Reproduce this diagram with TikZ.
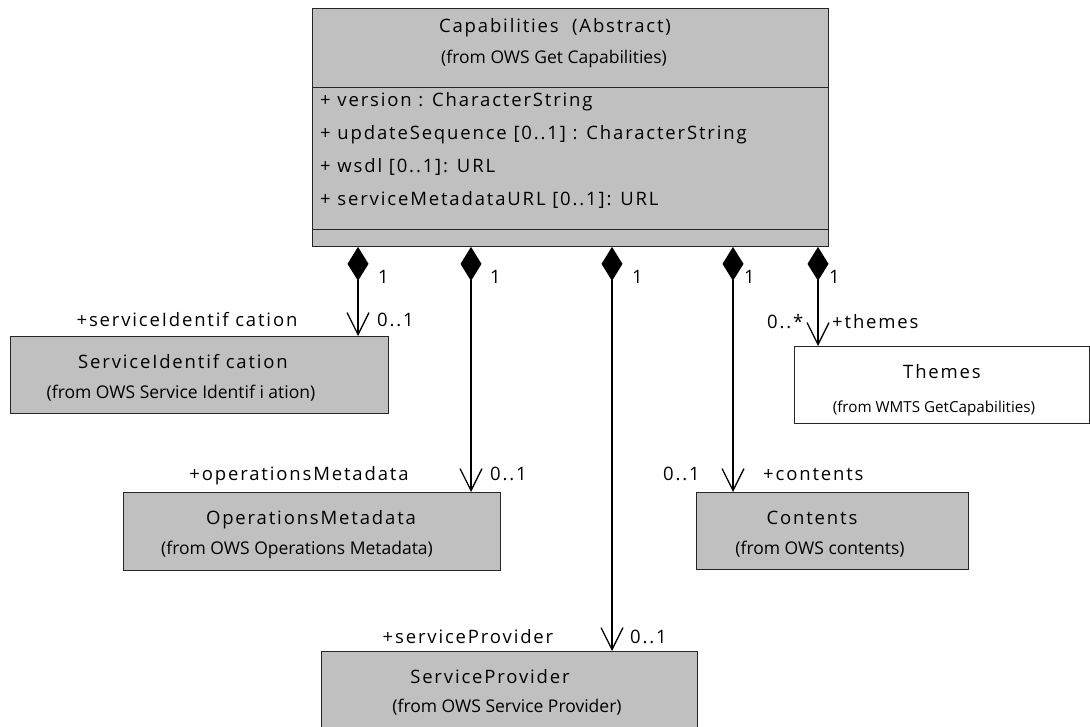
\documentclass[tikz,border=0pt]{standalone}
\usepackage{fontspec}
\setmainfont{Open Sans}
\newfontfamily\lblfont{Open Sans}[LetterSpace=10]
\newfontfamily\subfont{Open Sans}
\usetikzlibrary{arrows.meta}
\definecolor{umlgrey}{HTML}{C0C0C0}
\begin{document}
\begin{tikzpicture}[x=1pt,y=-1pt,
  cls/.style={draw=black!85, fill=umlgrey, line width=0.9pt, inner sep=0pt, anchor=north west},
  ttl/.style={font=\lblfont\fontsize{18.5}{20}\selectfont, inner sep=0pt, anchor=base},
  subt/.style={font=\subfont\fontsize{17.5}{19}\selectfont, inner sep=0pt, anchor=base},
  attr/.style={ttl, anchor=base west},
  mult/.style={ttl, anchor=base west},
  comp/.style={line width=1.3pt, {Diamond[length=34pt,width=21pt]}-{Straight Barb[length=22pt,width=22pt]}}
]
\useasboundingbox (0,0) rectangle (1090,726);

% class boxes
\node[cls, minimum width=516pt, minimum height=238pt] (cap) at (312,8) {};
\draw[line width=0.9pt, black!85] (cap.west |- 0,87) -- (cap.east |- 0,87);
\draw[line width=0.9pt, black!85] (cap.west |- 0,229) -- (cap.east |- 0,229);
\node[cls, minimum width=378pt, minimum height=77pt] (sid) at (10,336) {};
\node[cls, minimum width=377pt, minimum height=78pt] (ops) at (123,492) {};
\node[cls, minimum width=272pt, minimum height=77pt] (cont) at (696,492) {};
\node[cls, minimum width=376pt, minimum height=90pt] (sp) at (321,651) {};
\node[cls, fill=white, minimum width=295pt, minimum height=77pt] (thm) at (794,346) {};

% class names and packages
\node[ttl] (capT) at (555,32) {Capabilities\ \ (Abstract)};
\node[subt] (capS) at (554,63) {(from OWS Get Capabilities)};
\node[attr] (a1) at (320,106) {+ version : CharacterString};
\node[attr] (a2) at (320,139) {+ updateSequence [0..1] : CharacterString};
\node[attr] (a3) at (320,172) {+ wsdl [0..1]: URL};
\node[attr] (a4) at (320,205) {+ serviceMetadataURL [0..1]: URL};

\node[ttl] (sidT) at (183,368) {ServiceIdentif cation};
\node[subt] (sidS) at (181,398) {(from OWS Service Identif i ation)};
\node[ttl] (opsT) at (311,524) {OperationsMetadata};
\node[subt] (opsS) at (297,554) {(from OWS Operations Metadata)};
\node[ttl] (contT) at (812,524) {Contents};
\node[subt] (contS) at (820,554) {(from OWS contents)};
\node[ttl] (spT) at (490,683) {ServiceProvider};
\node[subt] (spS) at (507,712) {(from OWS Service Provider)};
\node[ttl] (thmT) at (942,378) {Themes};
\node[subt, font=\subfont\fontsize{15.2}{17}\selectfont] (thmS) at (934,412) {(from WMTS GetCapabilities)};

% composition associations
\coordinate (x1) at (358,0);
\coordinate (x2) at (471,0);
\coordinate (x3) at (612,0);
\coordinate (x4) at (733,0);
\coordinate (x5) at (818,0);
\draw[comp] (cap.south -| x1) -- (sid.north -| x1);
\draw[comp] (cap.south -| x2) -- (ops.north -| x2);
\draw[comp] (cap.south -| x3) -- (sp.north -| x3);
\draw[comp] (cap.south -| x4) -- (cont.north -| x4);
\draw[comp] (cap.south -| x5) -- (thm.north -| x5);

% multiplicities and role names
\node[mult] (m1) at (378,283) {1};
\node[mult] (m2) at (490,283) {1};
\node[mult] (m3) at (632,283) {1};
\node[mult] (m4) at (744,283) {1};
\node[mult] (m5) at (829,283) {1};
\node[ttl] (r1) at (187,326) {+serviceIdentif cation};
\node[mult] (n1) at (377,326) {0..1};
\node[ttl] (r2) at (299,480) {+operationsMetadata};
\node[mult] (n2) at (490,480) {0..1};
\node[mult] (n4) at (663,480) {0..1};
\node[mult] (r4) at (763,480) {+contents};
\node[ttl] (r3) at (468,643) {+serviceProvider};
\node[mult] (n3) at (630,643) {0..1};
\node[mult] (n5) at (767,328) {0..*};
\node[mult] (r5) at (832,328) {+themes};
\end{tikzpicture}
\end{document}
